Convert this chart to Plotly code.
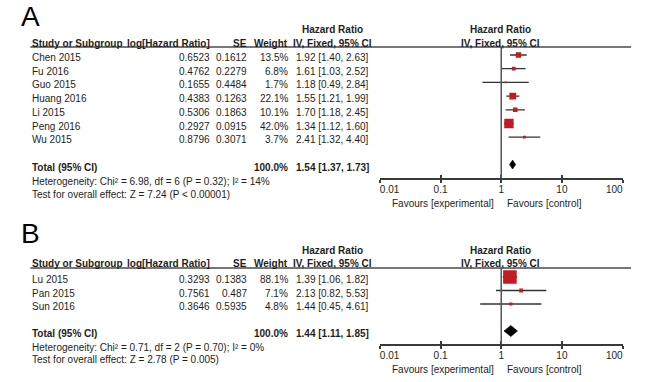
import math
import plotly.graph_objects as go

W, H = 650, 382
FONT = "Liberation Sans, Arial, Helvetica, sans-serif"
TXT = "#1e1e1e"
RED = "#c41a22"

# ---------------- data: panel A ----------------
a_studies = ["Chen 2015", "Fu 2016", "Guo 2015", "Huang 2016", "Li 2015", "Peng 2016", "Wu 2015"]
a_log_hr = [0.6523, 0.4762, 0.1655, 0.4383, 0.5306, 0.2927, 0.8796]
a_se = [0.1612, 0.2279, 0.4484, 0.1263, 0.1863, 0.0915, 0.3071]
a_weight = [13.5, 6.8, 1.7, 22.1, 10.1, 42.0, 3.7]
a_hr = [1.92, 1.61, 1.18, 1.55, 1.70, 1.34, 2.41]
a_lo = [1.40, 1.03, 0.49, 1.21, 1.18, 1.12, 1.32]
a_hi = [2.63, 2.52, 2.84, 1.99, 2.45, 1.60, 4.40]
a_total_weight = 100.0
a_total = [1.54, 1.37, 1.73]          # estimate, lower, upper
a_het = ["6.98", "6", "0.32", "14"]    # chi2, df, P, I2
a_test = ["7.24", "P < 0.00001"]       # Z, P

# ---------------- data: panel B ----------------
b_studies = ["Lu 2015", "Pan 2015", "Sun 2016"]
b_log_hr = [0.3293, 0.7561, 0.3646]
b_se = [0.1383, 0.487, 0.5935]
b_weight = [88.1, 7.1, 4.8]
b_hr = [1.39, 2.13, 1.44]
b_lo = [1.06, 0.82, 0.45]
b_hi = [1.82, 5.53, 4.61]
b_total_weight = 100.0
b_total = [1.44, 1.11, 1.85]
b_het = ["0.71", "2", "0.70", "0"]
b_test = ["2.78", "P = 0.005"]

tick_vals = [0.01, 0.1, 1, 10, 100]
tick_text = ["0.01", "0.1", "1", "10", "100"]
fav_left = "Favours [experimental]"
fav_right = "Favours [control]"

# ---------------- layout constants (pixels) ----------------
panels = [
    dict(label="A", studies=a_studies, log_hr=a_log_hr, se=a_se, weight=a_weight,
         hr=a_hr, lo=a_lo, hi=a_hi, total=a_total, tw=a_total_weight, het=a_het, test=a_test,
         letter_top=0, title_y=29, head_y=43, rule_y=47, row0=55, step=13.7,
         axis_y=178, het_y=181, test_y=194, dia_h=4.5, xa="x", ya="y", xo="x3"),
    dict(label="B", studies=b_studies, log_hr=b_log_hr, se=b_se, weight=b_weight,
         hr=b_hr, lo=b_lo, hi=b_hi, total=b_total, tw=b_total_weight, het=b_het, test=b_test,
         letter_top=216.5, title_y=250, head_y=263, rule_y=268, row0=277, step=13.5,
         axis_y=344, het_y=347, test_y=359.5, dia_h=5.5, xa="x2", ya="y2", xo="x4"),
]

X_STUDY, X_LOG, X_SE, X_W, X_CI = 12, 204, 243, 287, 373
X_HDR_L, X_HDR_R = 332, 510
FOREST_L, FOREST_R = 382, 639
TEXT_SHIFT = -2.5
SQ_SCALE = 1.45
NBSP = "\u00a0"

# end tick labels sit inside the axis ends (padding keeps them centred text-wise)
tick_display = list(tick_text)
tick_display[0] = NBSP * 7 + tick_display[0]
tick_display[-1] = tick_display[-1] + NBSP * 6


def px(x):
    return x / W


def py(y):
    return 1 - y / H


fig = go.Figure()
annotations = []
shapes = []


def note(x, y, text, anchor="left", yref="paper", size=10, yshift=0, color=TXT,
         yanchor="middle", borderpad=1):
    annotations.append(dict(
        x=px(x), y=py(y) if yref == "paper" else y, xref="paper", yref=yref,
        text=text, showarrow=False, xanchor=anchor, yanchor=yanchor,
        yshift=yshift, borderpad=borderpad, font=dict(family=FONT, size=size, color=color),
    ))


for k, p in enumerate(panels):
    n = len(p["studies"])
    rows = list(range(n))
    total_row = n + 1
    ya, xa = p["ya"], p["xa"]
    ax_suffix = "" if k == 0 else str(k + 1)

    # study squares with CI whiskers
    fig.add_trace(go.Scatter(
        x=p["hr"], y=rows, mode="markers", xaxis=xa, yaxis=ya,
        marker=dict(symbol="square", color=RED, opacity=1,
                    size=[SQ_SCALE * math.sqrt(w) for w in p["weight"]],
                    line=dict(width=0)),
        error_x=dict(type="data", symmetric=False,
                     array=[h - e for h, e in zip(p["hi"], p["hr"])],
                     arrayminus=[e - l for e, l in zip(p["hr"], p["lo"])],
                     width=0, thickness=1.3, color="#333333"),
        hoverinfo="skip", showlegend=False,
    ))
    # pooled diamond
    est, lo, hi = p["total"]
    dh = p["dia_h"] / p["step"]
    fig.add_trace(go.Scatter(
        x=[lo, est, hi, est, lo], y=[total_row, total_row - dh, total_row, total_row + dh, total_row],
        mode="lines", fill="toself", fillcolor="#000000",
        line=dict(color="#000000", width=0.6), xaxis=xa, yaxis=ya,
        hoverinfo="skip", showlegend=False,
    ))
    # invisible trace for overlay tick axis
    fig.add_trace(go.Scatter(x=[], y=[], xaxis=p["xo"], yaxis=ya, showlegend=False))

    y_top = (p["rule_y"] - p["row0"]) / p["step"]
    y_bot = (p["axis_y"] - p["row0"]) / p["step"]
    axis_common = dict(
        type="log", range=[-2, 2], showgrid=False, zeroline=False,
        showline=True, linecolor="#3a3a3a", linewidth=1.5,
        tickvals=tick_vals, ticktext=tick_display, tickwidth=1.5, tickcolor="#3a3a3a",
        ticklen=3, fixedrange=True,
    )
    fig.layout["xaxis" + ax_suffix] = dict(
        axis_common, domain=[px(FOREST_L), px(FOREST_R)], anchor=ya, ticks="inside",
        tickfont=dict(family=FONT, size=10, color=TXT), ticklabelstandoff=1,
        ticklabeloverflow="allow",
    )
    fig.layout["xaxis" + str(k + 3)] = dict(
        axis_common, overlaying=xa, anchor=ya, ticks="outside", showticklabels=False,
    )
    fig.layout["yaxis" + ax_suffix] = dict(
        domain=[py(p["axis_y"]), py(p["rule_y"])], range=[y_bot, y_top],
        visible=False, fixedrange=True, anchor=xa,
    )

    # line of no effect
    shapes.append(dict(type="line", xref=xa, yref=ya + " domain", x0=1, x1=1, y0=0, y1=1,
                       line=dict(color="#555555", width=1.5)))
    # header rule
    shapes.append(dict(type="line", xref="paper", yref="paper", x0=px(12), x1=px(648),
                       y0=py(p["rule_y"]), y1=py(p["rule_y"]),
                       line=dict(color="#4a4a4a", width=1.5)))

    # panel letter
    note(12, p["letter_top"], p["label"], anchor="center", size=28, color="#000000",
         yanchor="top", borderpad=0)
    # headers
    note(X_HDR_L, p["title_y"], "<b>Hazard Ratio</b>", anchor="center")
    note(X_HDR_R, p["title_y"], "<b>Hazard Ratio</b>", anchor="center")
    note(X_STUDY, p["head_y"], "<b>Study or Subgroup</b>")
    note(X_LOG, p["head_y"], "<b>log[Hazard Ratio]</b>", anchor="right")
    note(X_SE, p["head_y"], "<b>SE</b>", anchor="right")
    note(X_W, p["head_y"], "<b>Weight</b>", anchor="right")
    note(X_HDR_L, p["head_y"], "<b>IV, Fixed, 95% CI</b>", anchor="center")
    note(X_HDR_R, p["head_y"], "<b>IV, Fixed, 95% CI</b>", anchor="center")

    # study rows
    for i in rows:
        note(X_STUDY, i, p["studies"][i], yref=ya, yshift=TEXT_SHIFT)
        note(X_LOG, i, str(p["log_hr"][i]), anchor="right", yref=ya, yshift=TEXT_SHIFT)
        note(X_SE, i, str(p["se"][i]), anchor="right", yref=ya, yshift=TEXT_SHIFT)
        note(X_W, i, f"{p['weight'][i]:.1f}%", anchor="right", yref=ya, yshift=TEXT_SHIFT)
        note(X_CI, i, f"{p['hr'][i]:.2f} [{p['lo'][i]:.2f}, {p['hi'][i]:.2f}]",
             anchor="right", yref=ya, yshift=TEXT_SHIFT)
    # total row
    note(X_STUDY, total_row, "<b>Total (95% CI)</b>", yref=ya, yshift=TEXT_SHIFT)
    note(X_W, total_row, f"<b>{p['tw']:.1f}%</b>", anchor="right", yref=ya, yshift=TEXT_SHIFT)
    note(X_CI, total_row, f"<b>{est:.2f} [{lo:.2f}, {hi:.2f}]</b>", anchor="right",
         yref=ya, yshift=TEXT_SHIFT)
    chi2, df, pv, i2 = p["het"]
    note(X_STUDY, p["het_y"], f"Heterogeneity: Chi² = {chi2}, df = {df} (P = {pv}); I² = {i2}%")
    z, pz = p["test"]
    note(X_STUDY, p["test_y"], f"Test for overall effect: Z = {z} ({pz})")
    # favours labels
    note(505, p["axis_y"] + 25, fav_left, anchor="right")
    note(515, p["axis_y"] + 25, fav_right, anchor="left")

fig.update_layout(
    width=W, height=H, margin=dict(l=0, r=0, t=0, b=0),
    paper_bgcolor="#ffffff", plot_bgcolor="rgba(0,0,0,0)",
    showlegend=False, annotations=annotations, shapes=shapes,
    font=dict(family=FONT, size=10, color=TXT),
)

fig.write_html(
    "out.html",
    config={"displayModeBar": False},
    post_script="document.body.style.margin='0';document.body.style.padding='0';",
)
